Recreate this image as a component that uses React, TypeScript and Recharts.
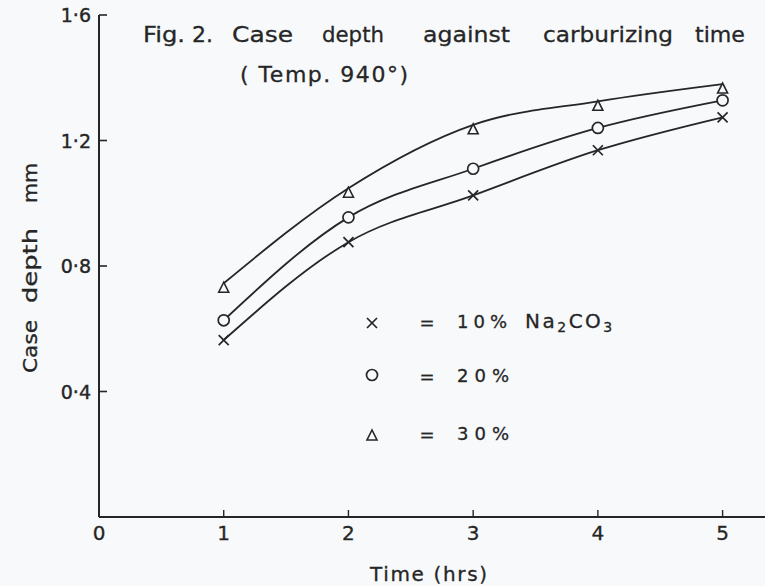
import React from "react";
import { LineChart, Line, XAxis, YAxis } from "recharts";

const TIMES = [1, 2, 3, 4, 5];
const NA10 = [0.564, 0.876, 1.025, 1.169, 1.274];
const NA20 = [0.627, 0.955, 1.11, 1.24, 1.328];
const NA30 = [0.745, 1.048, 1.25, 1.325, 1.38];
const X_TICKS = [0, 1, 2, 3, 4, 5];
const Y_TICKS = [0.4, 0.8, 1.2, 1.6];
const Y_TICK_LABELS = ["0·4", "0·8", "1·2", "1·6"];

// title words with their left edge and width as they sit on the scan
const TITLE_WORDS: [string, number, number][] = [
  ["Fig.", 143, 42],
  ["2.", 192, 21],
  ["Case", 232, 61],
  ["depth", 322, 62],
  ["against", 423, 87],
  ["carburizing", 543, 130],
  ["time", 695, 50],
];
const YLABEL_WORDS: [string, number, number][] = [
  ["Case", 373, 53],
  ["depth", 303, 75],
  ["mm", 203, 40],
];

const data = TIMES.map((t, i) => ({ t, a: NA10[i], b: NA20[i], c: NA30[i] }));

const W = 765;
const H = 586;
const LEFT = 99;
const INK = "#262626";
const BG = "#f7f9fb";
const FONT = "'DejaVu Sans', sans-serif";

type Kind = "cross" | "circle" | "tri";

function Marker({ kind, cx, cy }: { kind: Kind; cx: number; cy: number }) {
  if (kind === "cross") {
    const s = 5;
    return (
      <g stroke={INK} strokeWidth={1.7}>
        <line x1={cx - s} y1={cy - s} x2={cx + s} y2={cy + s} />
        <line x1={cx - s} y1={cy + s} x2={cx + s} y2={cy - s} />
      </g>
    );
  }
  if (kind === "circle") {
    return <circle cx={cx} cy={cy} r={5.5} fill={BG} stroke={INK} strokeWidth={1.7} />;
  }
  return (
    <polygon
      points={`${cx},${cy - 1} ${cx - 5},${cy + 9} ${cx + 5},${cy + 9}`}
      fill={BG}
      stroke={INK}
      strokeWidth={1.6}
    />
  );
}

const dotFor = (kind: Kind) => (p: any) => (
  <Marker key={`${kind}-${p.index}`} kind={kind} cx={p.cx} cy={p.cy} />
);

function YTick(p: any) {
  const i = Y_TICKS.indexOf(p.payload.value);
  return (
    <g>
      <line x1={LEFT} y1={p.y} x2={LEFT + 8} y2={p.y} stroke={INK} strokeWidth={1.6} />
      <text
        x={LEFT - 8}
        y={p.y + 7}
        textAnchor="end"
        fontSize={19}
        fill={INK}
        stroke={INK}
        strokeWidth={0.4}
        fontFamily={FONT}
      >
        {Y_TICK_LABELS[i]}
      </text>
    </g>
  );
}

function XTick(p: any) {
  const v = p.payload.value;
  return (
    <g>
      {v > 0 && <line x1={p.x} y1={517} x2={p.x} y2={510} stroke={INK} strokeWidth={1.4} />}
      <text
        x={p.x}
        y={540}
        textAnchor="middle"
        fontSize={20}
        fill={INK}
        stroke={INK}
        strokeWidth={0.3}
        fontFamily={FONT}
      >
        {v}
      </text>
    </g>
  );
}

export default function App() {
  return (
    <div style={{ position: "absolute", left: 0, top: 0, width: W, height: H, background: BG }}>
      <LineChart width={W} height={H} data={data} margin={{ top: 15, right: 0, left: 0, bottom: 0 }}>
        <XAxis
          type="number"
          dataKey="t"
          domain={[0, 5.34]}
          ticks={X_TICKS}
          height={69}
          axisLine={{ stroke: INK, strokeWidth: 2 }}
          tickLine={false}
          tick={<XTick />}
          allowDataOverflow
        />
        <YAxis
          type="number"
          domain={[0, 1.6]}
          ticks={Y_TICKS}
          width={LEFT}
          axisLine={{ stroke: INK, strokeWidth: 2 }}
          tickLine={false}
          tick={<YTick />}
        />
        <Line type="monotone" dataKey="a" stroke={INK} strokeWidth={1.8} dot={dotFor("cross")} isAnimationActive={false} />
        <Line type="monotone" dataKey="b" stroke={INK} strokeWidth={1.8} dot={dotFor("circle")} isAnimationActive={false} />
        <Line type="monotone" dataKey="c" stroke={INK} strokeWidth={1.8} dot={dotFor("tri")} isAnimationActive={false} />
      </LineChart>
      <svg width={W} height={H} style={{ position: "absolute", left: 0, top: 0, pointerEvents: "none" }}>
        <g fill={INK} stroke={INK} strokeWidth={0.3} fontFamily={FONT}>
          {TITLE_WORDS.map(([w, x, len]) => (
            <text key={w} x={x} y={42} fontSize={22} textLength={len} lengthAdjust="spacingAndGlyphs">
              {w}
            </text>
          ))}
          <text x={240} y={82} fontSize={22} textLength={168} lengthAdjust="spacing">
            ( Temp. 940°)
          </text>
          <text x={370} y={581} fontSize={20} textLength={117} lengthAdjust="spacing">
            Time (hrs)
          </text>
          {YLABEL_WORDS.map(([w, y, len]) => (
            <text
              key={w}
              x={0}
              y={0}
              fontSize={20}
              transform={`translate(37,${y}) rotate(-90)`}
              textLength={len}
              lengthAdjust="spacingAndGlyphs"
            >
              {w}
            </text>
          ))}
          <g fontSize={18}>
            <text x={427} y={329} textAnchor="middle">=</text>
            <text x={457} y={328} textLength={50} lengthAdjust="spacing">10%</text>
            <text x={525} y={328} fontSize={20} letterSpacing={2.5}>
              Na<tspan fontSize={14} dy={4}>2</tspan>
              <tspan dy={-4}>CO</tspan>
              <tspan fontSize={14} dy={4}>3</tspan>
            </text>
            <text x={427} y={383} textAnchor="middle">=</text>
            <text x={457} y={382} textLength={52} lengthAdjust="spacing">20%</text>
            <text x={427} y={441} textAnchor="middle">=</text>
            <text x={457} y={440} textLength={52} lengthAdjust="spacing">30%</text>
          </g>
        </g>
        <Marker kind="cross" cx={372} cy={323} />
        <Marker kind="circle" cx={372} cy={375} />
        <Marker kind="tri" cx={372} cy={431} />
      </svg>
    </div>
  );
}
